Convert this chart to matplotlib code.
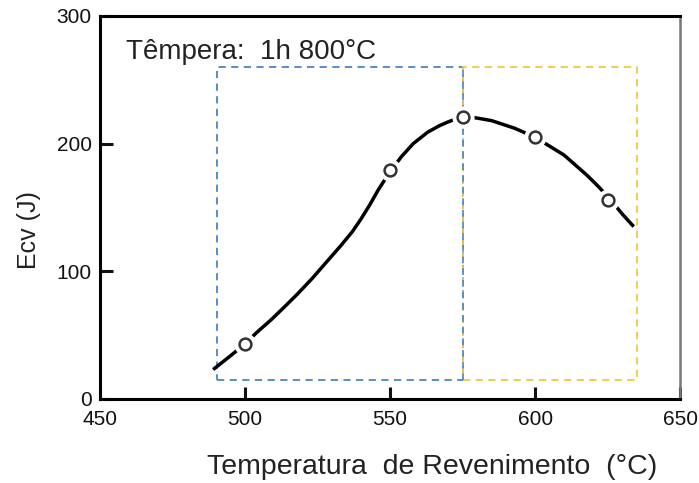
import matplotlib.pyplot as plt

# measured points (circles)
temp_pts = [500, 550, 575, 600, 625]
ecv_pts = [43, 179, 221, 205, 156]

# hand drawn curve through the points
temp_curve = [489, 494, 500, 504, 509, 514, 518, 523, 528, 533, 537, 540, 543, 546, 550,
              554, 558, 563, 567, 570, 573, 575, 577, 580, 585, 589, 593, 596, 600,
              605, 610, 614, 618, 622, 626, 630, 634]
ecv_curve = [23, 32, 43, 52, 62, 73, 82, 94, 107, 120, 131, 141, 152, 164, 178,
             190, 200, 209, 214, 217, 219.5, 221, 221, 220, 218, 215, 212, 209, 205,
             198, 191, 183, 175, 166, 156, 145, 135]

# dashed boxes (x0, x1, y0, y1)
box_blue = [490.5, 575, 15, 260]
box_yellow = [575, 635, 15, 260]

xticks = [450, 500, 550, 600, 650]
yticks = [0, 100, 200, 300]

plt.rcParams['font.family'] = ['Liberation Sans', 'DejaVu Sans']

fig = plt.figure(figsize=(6.99, 4.83), dpi=100)
ax = fig.add_axes([0.143, 0.174, 0.830, 0.793])

ax.plot(temp_curve, ecv_curve, color='black', lw=2.5, solid_capstyle='butt', zorder=3)
# white halo so the line breaks around the circles
ax.plot(temp_pts, ecv_pts, 'o', ms=15, color='white', zorder=4)
ax.plot(temp_pts, ecv_pts, 'o', ms=8.5, mfc='white', mec='#333333', mew=1.8, zorder=5)

for box, col in [(box_blue, '#4a86c5'), (box_yellow, '#f2c744')]:
    x0, x1, y0, y1 = box
    ax.plot([x0, x1, x1, x0, x0], [y0, y0, y1, y1, y0], ls=(0, (4, 3)),
            color=col, lw=1.3, zorder=2)
# blue edge on top at the shared side
ax.plot([box_blue[1], box_blue[1]], [box_blue[2], box_blue[3]], ls=(0, (4, 3)),
        color='#4a86c5', lw=1.2, zorder=2)

ax.text(459, 272, 'Têmpera:  1h 800°C', fontsize=20, color='#222222', va='center')

ax.set_xlim(450, 650)
ax.set_ylim(0, 300)
ax.set_xticks(xticks)
ax.set_yticks(yticks)
ax.tick_params(direction='in', length=9, width=2.2, labelsize=15, colors='#111111')
ax.tick_params(axis='x', pad=8)
ax.tick_params(axis='y', pad=6)
for s in ax.spines.values():
    s.set_linewidth(2.2)
ax.spines['right'].set_color('#777777')
ax.spines['right'].set_linewidth(1.8)

ax.set_ylabel('Ecv (J)', fontsize=18, color='#222222')
ax.yaxis.set_label_coords(-0.102, 0.44)
ax.set_xlabel('Temperatura  de Revenimento  (°C)', fontsize=20.5, color='#222222')
ax.xaxis.set_label_coords(0.572, -0.143)

fig.savefig('out.png', dpi=100)
